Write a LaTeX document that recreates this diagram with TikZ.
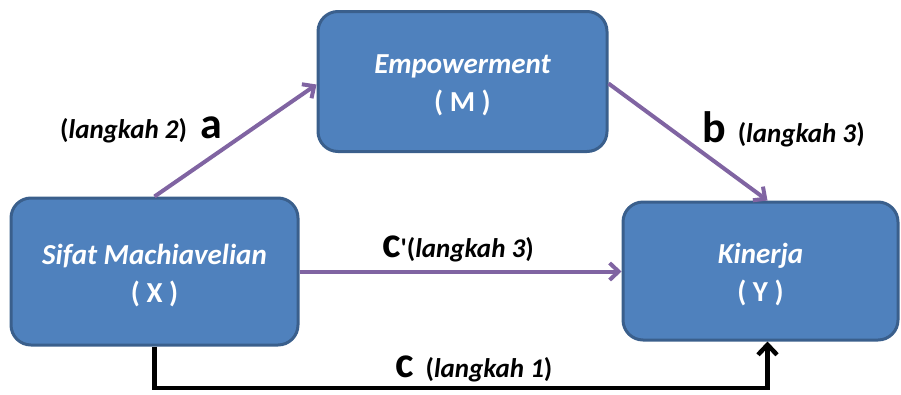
\documentclass[tikz,border=0pt]{standalone}
\usepackage{fontspec}
\setmainfont{Carlito}
\usetikzlibrary{arrows.meta}
\definecolor{boxfill}{HTML}{4F81BD}
\definecolor{boxline}{HTML}{3A5F8C}
\definecolor{pathpurple}{HTML}{8064A2}
\newcommand{\coefsize}{\fontsize{44}{44}\selectfont}
\begin{document}
\begin{tikzpicture}[x=1pt,y=-1pt,
  var/.style={draw=boxline, line width=3pt, fill=boxfill, rounded corners=20pt},
  vartext/.style={text=white, align=center, inner sep=0pt,
    font=\fontsize{29}{38}\selectfont\bfseries},
  path/.style={draw=pathpurple, line width=4pt,
    -{Straight Barb[length=9pt,width=17pt,line width=4pt]}},
  total/.style={draw=black, line width=4.5pt,
    -{Straight Barb[length=10pt,width=19pt,line width=4.5pt]}},
  lbl/.style={font=\fontsize{27}{30}\selectfont\bfseries, inner sep=0pt, anchor=base west}]
\useasboundingbox (0,0) rectangle (901,394);

% variables
\node[var, minimum width=287pt, minimum height=147pt] (x) at (154.5,271.5) {};
\node[var, minimum width=289pt, minimum height=140pt] (m) at (462.5,81.5) {};
\node[var, minimum width=275pt, minimum height=138pt] (y) at (760.5,271) {};
\node[vartext] (xt) at ([yshift=-4pt]x.center) {\itshape Sifat Machiavelian\\( X )};
\node[vartext] (mt) at ([yshift=-4pt]m.center) {\itshape Empowerment\\( M )};
\node[vartext] (yt) at ([yshift=-4pt]y.center) {\itshape Kinerja\\( Y )};

% paths
\draw[path] (x.north) -- ([yshift=-3pt]m.west);
\draw[path] ([yshift=-2pt]m.east) -- ([xshift=7pt]y.north);
\draw[path] (x.east) -- (x.east -| y.west);
\coordinate (low) at (0,388);
\draw[total] (x.south) -- (x.south |- low) -| ([xshift=7pt]y.south);

% path labels
\node[lbl] (la) at (60,138) {(\textit{langkah 2})\hspace{14pt}{\coefsize a}};
\node[lbl] (lb) at (702,142) {{\coefsize b}\hspace{12pt}(\textit{langkah 3})};
\node[lbl] (lc1) at (382,257) {{\coefsize c}\textquotesingle(\textit{langkah 3})};
\node[lbl] (lc) at (395,377) {{\coefsize c}\hspace{12pt}(\textit{langkah 1})};
\end{tikzpicture}
\end{document}
